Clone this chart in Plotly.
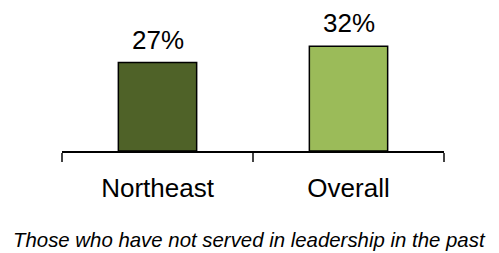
import plotly.graph_objects as go

categories = ["Northeast", "Overall"]
values = [0.27, 0.32]
labels = ["27%", "32%"]
colors = ["#4F6228", "#9BBB59"]
caption = "Those who have not served in leadership in the past"

fig = go.Figure()
fig.add_trace(go.Bar(
    x=categories, y=values,
    marker=dict(color=colors, line=dict(color="black", width=1.5)),
    width=0.41,
    hoverinfo="skip",
))
for c, v, t in zip(categories, values, labels):
    fig.add_annotation(x=c, y=v, text=t, showarrow=False, yanchor="bottom",
                       yshift=7, borderpad=0, font=dict(size=26, color="black"))
fig.add_annotation(x=0.49, y=-0.585, xref="paper", yref="paper", xanchor="center", yanchor="top",
                   text="<i>" + caption + "</i>", showarrow=False, borderpad=0,
                   font=dict(size=20.4, color="black"))

fig.update_layout(
    width=499, height=253,
    margin=dict(l=54, r=63, t=12, b=110),
    paper_bgcolor="white", plot_bgcolor="white",
    font=dict(family="Liberation Sans, Arial, sans-serif", color="black"),
    showlegend=False,
    xaxis=dict(showline=True, linecolor="black", linewidth=2, ticks="outside",
               ticklen=9, tickcolor="#444", tickwidth=1.5, tickson="boundaries",
               ticklabelstandoff=13,
               tickfont=dict(size=26), showgrid=False, zeroline=False),
    yaxis=dict(range=[0, 0.40], visible=False, showgrid=False, zeroline=False),
)
fig.write_html("out.html")
